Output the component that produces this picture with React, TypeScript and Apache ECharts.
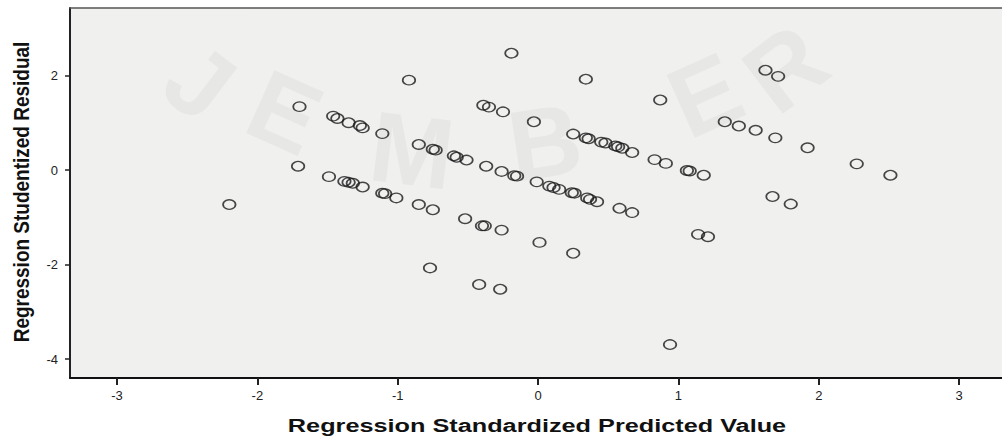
import React, { useEffect, useRef } from "react";
import * as echarts from "echarts";

const predicted = [
  -2.20, -1.70, -1.71, -1.49, -1.46, -1.43, -1.35, -1.27, -1.25, -1.11,
  -0.92, -0.85, -0.75, -0.73, -0.60, -0.58, -0.51, -0.37, -0.26, -0.17,
  -0.15, -0.19, -0.39, -0.35, -0.25, -0.03, 0.34, 0.87, 0.25, 0.34,
  0.36, 0.45, 0.48, 0.55, 0.57, 0.60, 0.67, 0.83, 0.91, 1.06,
  1.08, 1.18, 1.62, 1.71, 1.33, 1.43, 1.55, 1.69, 1.92, 2.27,
  2.51, 1.67, 1.80, 1.14, 1.21, -1.38, -1.35, -1.32, -1.25, -1.11,
  -1.09, -1.01, -0.85, -0.75, -0.52, -0.40, -0.38, -0.26, -0.01, 0.08,
  0.11, 0.15, 0.24, 0.26, 0.35, 0.37, 0.42, 0.58, 0.67, 0.01,
  0.25, -0.77, -0.42, -0.27, 0.94,
];

const residual = [
  -0.73, 1.34, 0.08, -0.14, 1.14, 1.09, 1.00, 0.94, 0.89, 0.77,
  1.90, 0.54, 0.44, 0.42, 0.30, 0.27, 0.21, 0.08, -0.03, -0.12,
  -0.13, 2.47, 1.37, 1.33, 1.23, 1.02, 1.92, 1.48, 0.76, 0.68,
  0.66, 0.59, 0.57, 0.51, 0.49, 0.46, 0.37, 0.22, 0.14, -0.01,
  -0.02, -0.11, 2.11, 1.98, 1.02, 0.93, 0.84, 0.68, 0.47, 0.13,
  -0.11, -0.56, -0.72, -1.36, -1.41, -0.24, -0.26, -0.28, -0.36, -0.49,
  -0.50, -0.59, -0.73, -0.84, -1.03, -1.18, -1.18, -1.27, -0.25, -0.34,
  -0.37, -0.41, -0.48, -0.49, -0.59, -0.62, -0.67, -0.81, -0.90, -1.53,
  -1.76, -2.07, -2.42, -2.52, -3.69,
];

const xTickValues = [-3, -2, -1, 0, 1, 2, 3];
const yTickValues = [-4, -2, 0, 2];
const xTitle = "Regression Standardized Predicted Value";
const yTitle = "Regression Studentized Residual";
const watermarkLetters = ["J", "E", "M", "B", "E", "R"];

const FONT = '"Liberation Sans", Arial, Helvetica, sans-serif';

export default function App() {
  const ref = useRef<HTMLDivElement>(null);
  useEffect(() => {
    document.body.style.margin = "0";
    const chart = echarts.init(ref.current!, null, { renderer: "svg" });
    const data = predicted.map((x, i) => [x, residual[i]]);
    const wmPos = [
      [200, 82, -0.65],
      [285, 112, -0.42],
      [412, 150, -0.12],
      [545, 142, 0.15],
      [705, 95, 0.42],
      [785, 68, 0.65],
    ];
    chart.setOption({
      animation: false,
      backgroundColor: "#ffffff",
      grid: {
        left: 70,
        top: 8,
        right: 0,
        bottom: 61,
        show: true,
        backgroundColor: "#f0f0ef",
        borderWidth: 0,
      },
      xAxis: [
        {
          type: "value",
          min: -3.335,
          max: 3.305,
          axisLine: { show: true, onZero: false, lineStyle: { color: "#111111", width: 2 } },
          axisTick: {
            show: true,
            customValues: xTickValues,
            length: 7,
            lineStyle: { color: "#222222", width: 2 },
          },
          axisLabel: {
            customValues: xTickValues,
            fontSize: 13,
            color: "#222222",
            margin: 11,
            fontFamily: FONT,
          },
          splitLine: { show: false },
        },
        {
          type: "value",
          position: "top",
          min: -3.335,
          max: 3.305,
          axisLine: { show: true, onZero: false, lineStyle: { color: "#555555", width: 1.5 } },
          axisTick: { show: false },
          axisLabel: { show: false },
          splitLine: { show: false },
        },
      ],
      yAxis: {
        type: "value",
        min: -4.397,
        max: 3.425,
        axisLine: { show: true, onZero: false, lineStyle: { color: "#222222", width: 2 } },
        axisTick: {
          show: true,
          customValues: yTickValues,
          length: 5,
          lineStyle: { color: "#222222", width: 1.5 },
        },
        axisLabel: {
          customValues: yTickValues,
          fontSize: 13,
          color: "#222222",
          margin: 12,
          fontFamily: FONT,
        },
        splitLine: { show: false },
      },
      series: [
        {
          type: "scatter",
          xAxisIndex: 0,
          data,
          symbol: "circle",
          symbolSize: [12.5, 9.5],
          z: 5,
          itemStyle: { color: "transparent", borderColor: "#1a1a1a", borderWidth: 1.5 },
        },
      ],
      graphic: [
        ...watermarkLetters.map((ch, i) => ({
          type: "text",
          x: wmPos[i][0],
          y: wmPos[i][1],
          rotation: wmPos[i][2],
          z: 1,
          silent: true,
          style: {
            text: ch,
            font: `bold 100px ${FONT}`,
            fill: "#e7e7e5",
            align: "center",
            verticalAlign: "middle",
          },
        })),
        {
          type: "text",
          x: 537,
          y: 426,
          scaleX: 1.33,
          z: 10,
          style: {
            text: xTitle,
            font: `bold 19px ${FONT}`,
            fill: "#111111",
            align: "center",
            verticalAlign: "middle",
          },
        },
        {
          type: "text",
          x: 21,
          y: 192,
          rotation: Math.PI / 2,
          scaleY: 1.2,
          z: 10,
          style: {
            text: yTitle,
            font: `bold 19px ${FONT}`,
            fill: "#111111",
            align: "center",
            verticalAlign: "middle",
          },
        },
      ],
    });
    return () => chart.dispose();
  }, []);
  return (
    <div
      ref={ref}
      style={{ position: "absolute", left: 0, top: 0, width: 1002, height: 439 }}
    />
  );
}
